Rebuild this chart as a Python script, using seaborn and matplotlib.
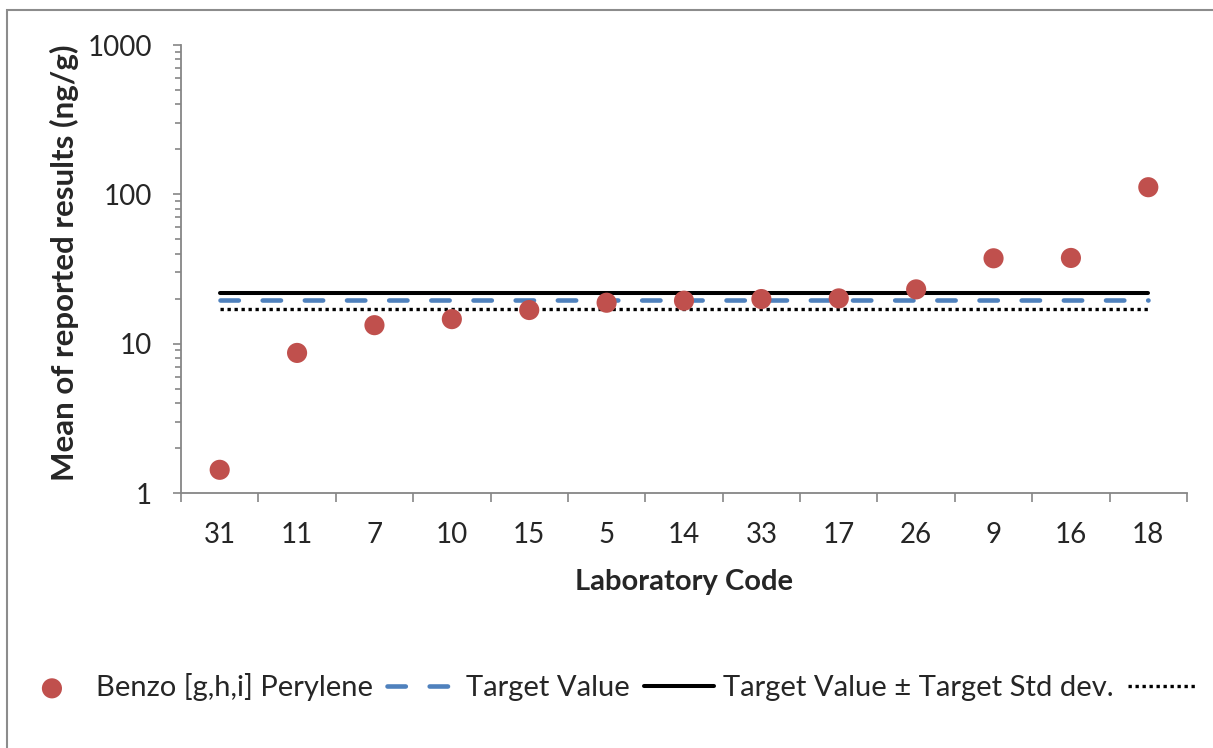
import numpy as np
import pandas as pd
import matplotlib
matplotlib.use("Agg")
import matplotlib.pyplot as plt
import seaborn as sns
from matplotlib.patches import Rectangle
from matplotlib.ticker import FixedLocator, NullFormatter, LogLocator

lab_codes = ["31", "11", "7", "10", "15", "5", "14", "33", "17", "26", "9", "16", "18"]
lab_means = [1.43, 8.67, 13.3, 14.6, 16.8, 18.8, 19.4, 19.9, 20.1, 23.1, 37.3, 37.5, 111.6]
target_value = 19.5
target_std = 2.5

series_name = "Benzo [g,h,i] Perylene"

def main():
    sns.set_theme(style="white")
    plt.rcParams['font.family'] = ['Lato', 'DejaVu Sans']

    pos = np.arange(len(lab_codes))
    df = pd.DataFrame({
        'pos': pos,
        'mean': lab_means,
        'target': [target_value] * len(lab_codes),
        'upper': [target_value + target_std] * len(lab_codes),
        'lower': [target_value - target_std] * len(lab_codes),
    })

    fig = plt.figure(figsize=(12.13, 7.48), dpi=100)
    ax = fig.add_axes([181 / 1213, 1 - 493 / 748, (1187 - 181) / 1213, (493 - 45) / 748])

    sns.lineplot(data=df, x='pos', y='upper', ax=ax, color='black', lw=2.9, sort=False)
    sns.lineplot(data=df, x='pos', y='target', ax=ax, color='#4F81BD', lw=3.3, sort=False)
    sns.lineplot(data=df, x='pos', y='lower', ax=ax, color='black', lw=2.4, sort=False)
    line_upper, line_target, line_lower = ax.get_lines()[:3]
    line_target.set_linestyle((0, (4.0, 5.2)))
    line_target.set_dash_capstyle('round')
    line_lower.set_linestyle((0, (1, 1.1)))

    sns.scatterplot(data=df, x='pos', y='mean', ax=ax, color='#C0504D', s=210,
                    edgecolor='none', zorder=5)
    pts = ax.collections[-1]

    ax.set_yscale('log')
    ax.set_ylim(1, 1000)
    ax.set_xlim(-0.5, len(lab_codes) - 0.5)

    ax.set_yticks([1, 10, 100, 1000])
    ax.set_yticklabels(['1', '10', '100', '1000'])
    ax.yaxis.set_minor_locator(LogLocator(base=10, subs=np.arange(2, 10)))
    ax.yaxis.set_minor_formatter(NullFormatter())

    ax.set_xticks(pos)
    ax.set_xticklabels(lab_codes)
    ax.xaxis.set_minor_locator(FixedLocator(np.arange(-0.5, len(lab_codes), 1.0)))

    gray = '#868686'
    for side in ['top', 'right']:
        ax.spines[side].set_visible(False)
    for side in ['left', 'bottom']:
        ax.spines[side].set_color(gray)
        ax.spines[side].set_linewidth(1.3)

    ax.tick_params(axis='y', which='major', direction='out', length=6, width=1.2,
                   color=gray, labelsize=20, pad=15, left=True)
    ax.tick_params(axis='y', which='minor', direction='out', length=4.5, width=1.2,
                   color=gray, left=True)
    ax.tick_params(axis='x', which='major', length=0, labelsize=20, pad=21, bottom=True)
    ax.tick_params(axis='x', which='minor', direction='out', length=6.5, width=1.2,
                   color=gray, bottom=True)

    ax.set_xlabel("Laboratory Code", fontsize=21, fontweight='bold', labelpad=15)
    ax.set_ylabel("Mean of reported results (ng/g)", fontsize=22.5, fontweight='bold')
    ax.yaxis.set_label_coords((79 - 181) / 1006, (493 - 263) / 448)
    ax.grid(False)

    fig.legend([pts, line_target, line_upper, line_lower],
               [series_name, "Target Value", "Target Value \u00b1 Target Std dev.", ""],
               loc='center', bbox_to_anchor=(612 / 1213, 1 - 687 / 748), ncol=4,
               frameon=False, fontsize=21, handlelength=2.4, handletextpad=0.3,
               columnspacing=0.5, scatterpoints=1)

    fig.add_artist(Rectangle((7 / 1213, -0.1), 1.2, 1 - 10 / 748 + 0.1,
                             transform=fig.transFigure, fill=False,
                             edgecolor='#8c8c8c', lw=1.5))

    fig.savefig("out.png", dpi=100)
    plt.close(fig)

if __name__ == "__main__":
    main()
